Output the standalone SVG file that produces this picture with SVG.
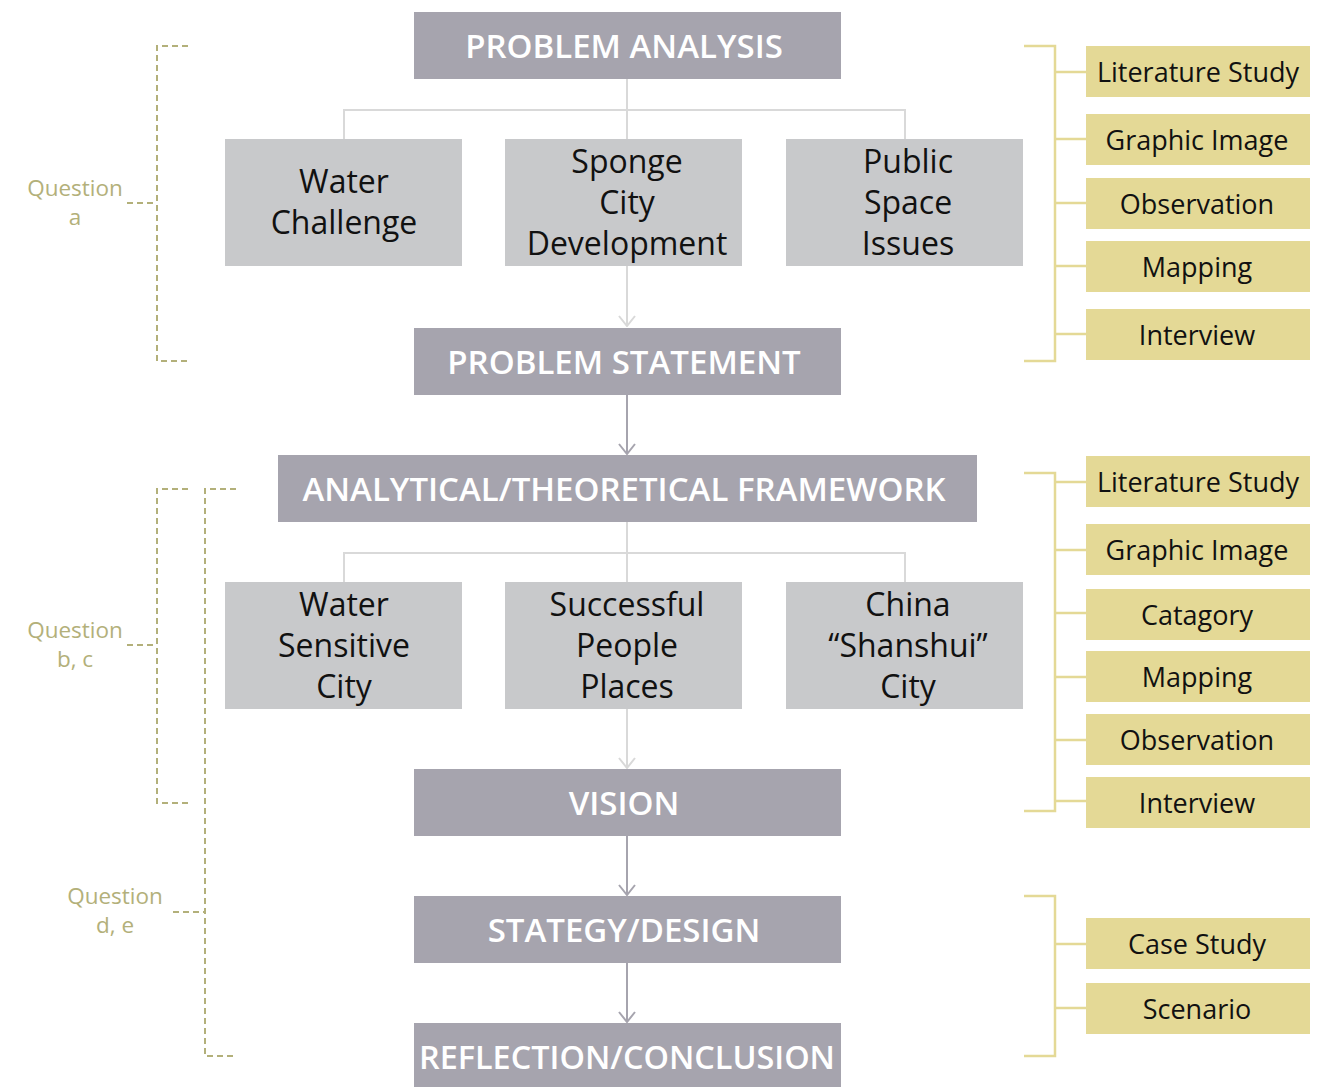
<svg xmlns="http://www.w3.org/2000/svg" width="1331" height="1087" viewBox="0 0 1331 1087">
<defs>
<marker id="ahL" viewBox="0 0 12 18" refX="11" refY="9" markerWidth="12" markerHeight="18" markerUnits="userSpaceOnUse" orient="auto">
<path d="M1,1 L11,9 L1,17" fill="none" stroke="#d9d9d9" stroke-width="2"/>
</marker>
<marker id="ahD" viewBox="0 0 12 18" refX="11" refY="9" markerWidth="12" markerHeight="18" markerUnits="userSpaceOnUse" orient="auto">
<path d="M1,1 L11,9 L1,17" fill="none" stroke="#a6a4ae" stroke-width="2"/>
</marker>
</defs>
<style>
.main{fill:#a6a4ae}
.sub{fill:#c8c9cb}
.meth{fill:#e4d996}
.mt{font-family:"Open Sans","Noto Sans",sans-serif;font-size:33px;fill:#ffffff;text-anchor:middle;font-weight:600}
.st{font-family:"Open Sans","Noto Sans",sans-serif;font-size:32px;fill:#111111;text-anchor:middle}
.et{font-family:"Open Sans","Noto Sans",sans-serif;font-size:27px;fill:#111111;text-anchor:middle}
.qt{font-family:"Open Sans","Noto Sans",sans-serif;font-size:22.5px;fill:#b3b07a;text-anchor:middle}
.lc{stroke:#d9d9d9;stroke-width:2;fill:none}
.dc{stroke:#a6a4ae;stroke-width:2;fill:none}
.gb{stroke:#e4d996;stroke-width:2.5;fill:none}
.qb{stroke:#b3b07a;stroke-width:2;fill:none;stroke-dasharray:6 4}
</style>
<rect width="1331" height="1087" fill="#ffffff"/>
<g id="connectors">
<path class="lc" d="M627,79 V139 M344,139 V110 H905 V139"/>
<path class="lc" d="M627,266 V326" marker-end="url(#ahL)"/>
<path class="dc" d="M627,395 V454" marker-end="url(#ahD)"/>
<path class="lc" d="M627,522 V582 M344,582 V553 H905 V582"/>
<path class="lc" d="M627,709 V768" marker-end="url(#ahL)"/>
<path class="dc" d="M627,836 V895" marker-end="url(#ahD)"/>
<path class="dc" d="M627,963 V1022" marker-end="url(#ahD)"/>
<path class="gb" d="M1024,46 H1055 V361 H1024 M1055,72 H1086 M1055,139 H1086 M1055,203 H1086 M1055,266 H1086 M1055,334 H1086"/>
<path class="gb" d="M1024,473 H1055 V811 H1024 M1055,482 H1086 M1055,550 H1086 M1055,613 H1086 M1055,677 H1086 M1055,740 H1086 M1055,801 H1086"/>
<path class="gb" d="M1024,896 H1055 V1056 H1024 M1055,944 H1086 M1055,1008 H1086"/>
<path class="qb" d="M188,46 H157 V361 H188 M127,203 H157"/>
<path class="qb" d="M188,489 H157 V803 H188 M127,645 H157"/>
<path class="qb" d="M236,489 H205 V1056 H236 M173,912 H205"/>
</g>
<g id="problem-analysis"><rect class="main" x="414" y="12" width="427" height="67"/><text class="mt" x="624" y="58">PROBLEM ANALYSIS</text></g>
<g id="water-challenge"><rect class="sub" x="225" y="139" width="237" height="127"/><text class="st" x="344" y="193">Water</text><text class="st" x="344" y="234">Challenge</text></g>
<g id="sponge-city"><rect class="sub" x="505" y="139" width="237" height="127"/><text class="st" x="627" y="173">Sponge</text><text class="st" x="627" y="214">City</text><text class="st" x="627" y="255">Development</text></g>
<g id="public-space"><rect class="sub" x="786" y="139" width="237" height="127"/><text class="st" x="908" y="173">Public</text><text class="st" x="908" y="214">Space</text><text class="st" x="908" y="255">Issues</text></g>
<g id="problem-statement"><rect class="main" x="414" y="328" width="427" height="67"/><text class="mt" x="624" y="374">PROBLEM STATEMENT</text></g>
<g id="framework"><rect class="main" x="278" y="455" width="699" height="67"/><text class="mt" x="624" y="501">ANALYTICAL/THEORETICAL FRAMEWORK</text></g>
<g id="wsc"><rect class="sub" x="225" y="582" width="237" height="127"/><text class="st" x="344" y="616">Water</text><text class="st" x="344" y="657">Sensitive</text><text class="st" x="344" y="698">City</text></g>
<g id="spp"><rect class="sub" x="505" y="582" width="237" height="127"/><text class="st" x="627" y="616">Successful</text><text class="st" x="627" y="657">People</text><text class="st" x="627" y="698">Places</text></g>
<g id="shanshui"><rect class="sub" x="786" y="582" width="237" height="127"/><text class="st" x="908" y="616">China</text><text class="st" x="908" y="657">“Shanshui”</text><text class="st" x="908" y="698">City</text></g>
<g id="vision"><rect class="main" x="414" y="769" width="427" height="67"/><text class="mt" x="624" y="815">VISION</text></g>
<g id="strategy"><rect class="main" x="414" y="896" width="427" height="67"/><text class="mt" x="624" y="942">STATEGY/DESIGN</text></g>
<g id="reflection"><rect class="main" x="414" y="1023" width="427" height="64"/><text class="mt" x="627" y="1069" textLength="416" lengthAdjust="spacingAndGlyphs">REFLECTION/CONCLUSION</text></g>
<g id="m1-lit"><rect class="meth" x="1086" y="46" width="224" height="51"/><text class="et" x="1198" y="82">Literature Study</text></g>
<g id="m1-graphic"><rect class="meth" x="1086" y="114" width="224" height="51"/><text class="et" x="1197" y="150">Graphic Image</text></g>
<g id="m1-obs"><rect class="meth" x="1086" y="178" width="224" height="51"/><text class="et" x="1197" y="214">Observation</text></g>
<g id="m1-map"><rect class="meth" x="1086" y="241" width="224" height="51"/><text class="et" x="1197" y="277">Mapping</text></g>
<g id="m1-int"><rect class="meth" x="1086" y="309" width="224" height="51"/><text class="et" x="1197" y="345">Interview</text></g>
<g id="m2-lit"><rect class="meth" x="1086" y="456" width="224" height="51"/><text class="et" x="1198" y="492">Literature Study</text></g>
<g id="m2-graphic"><rect class="meth" x="1086" y="524" width="224" height="51"/><text class="et" x="1197" y="560">Graphic Image</text></g>
<g id="m2-cat"><rect class="meth" x="1086" y="589" width="224" height="51"/><text class="et" x="1197" y="625">Catagory</text></g>
<g id="m2-map"><rect class="meth" x="1086" y="651" width="224" height="51"/><text class="et" x="1197" y="687">Mapping</text></g>
<g id="m2-obs"><rect class="meth" x="1086" y="714" width="224" height="51"/><text class="et" x="1197" y="750">Observation</text></g>
<g id="m2-int"><rect class="meth" x="1086" y="777" width="224" height="51"/><text class="et" x="1197" y="813">Interview</text></g>
<g id="m3-case"><rect class="meth" x="1086" y="918" width="224" height="51"/><text class="et" x="1197" y="954">Case Study</text></g>
<g id="m3-scen"><rect class="meth" x="1086" y="983" width="224" height="51"/><text class="et" x="1197" y="1019">Scenario</text></g>
<g id="q-a"><text class="qt" x="75" y="196">Question</text><text class="qt" x="75" y="225">a</text></g>
<g id="q-bc"><text class="qt" x="75" y="638">Question</text><text class="qt" x="75" y="667">b, c</text></g>
<g id="q-de"><text class="qt" x="115" y="904">Question</text><text class="qt" x="115" y="933">d, e</text></g>
</svg>
